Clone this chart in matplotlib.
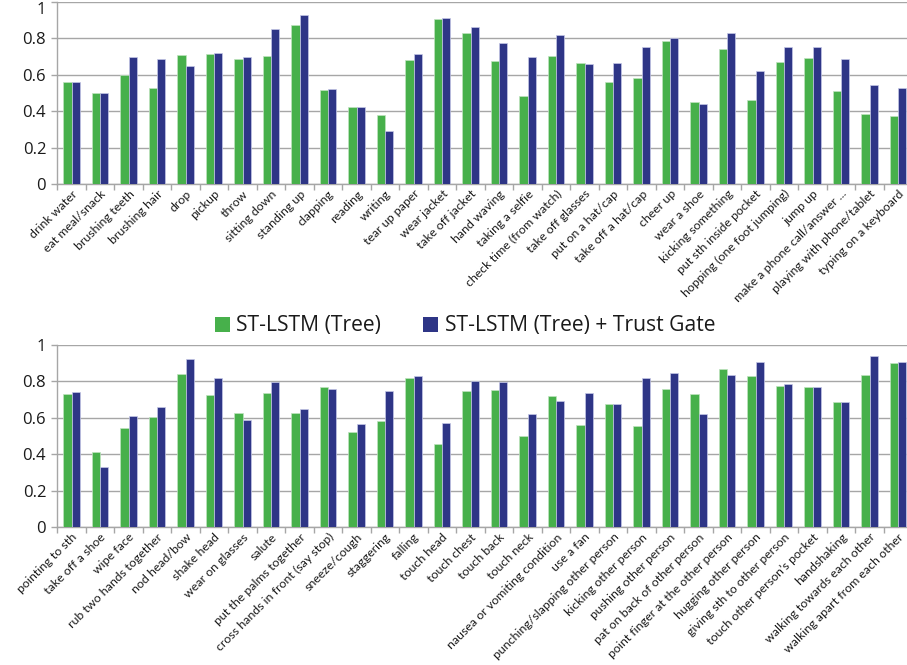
import numpy as np
import matplotlib
matplotlib.use("Agg")
import matplotlib.pyplot as plt
from matplotlib.patches import Patch

plt.rcParams['font.family'] = ['Open Sans', 'DejaVu Sans']

series_names = ["ST-LSTM (Tree)", "ST-LSTM (Tree) + Trust Gate"]

top_categories = [
    "drink water", "eat meal/snack", "brushing teeth", "brushing hair", "drop",
    "pickup", "throw", "sitting down", "standing up", "clapping", "reading",
    "writing", "tear up paper", "wear jacket", "take off jacket", "hand waving",
    "taking a selfie", "check time (from watch)", "take off glasses",
    "put on a hat/cap", "take off a hat/cap", "cheer up", "wear a shoe",
    "kicking something", "put sth inside pocket", "hopping (one foot jumping)",
    "jump up", "make a phone call/answer ...", "playing with phone/tablet",
    "typing on a keyboard",
]
top_tree = [0.559, 0.502, 0.599, 0.529, 0.707, 0.716, 0.685, 0.701, 0.875, 0.518,
            0.421, 0.379, 0.681, 0.908, 0.828, 0.674, 0.482, 0.705, 0.663, 0.560,
            0.581, 0.784, 0.452, 0.740, 0.462, 0.668, 0.694, 0.511, 0.385, 0.372]
top_trust = [0.559, 0.502, 0.698, 0.687, 0.647, 0.720, 0.700, 0.850, 0.927, 0.520,
             0.421, 0.291, 0.712, 0.912, 0.861, 0.777, 0.700, 0.819, 0.658, 0.663,
             0.753, 0.800, 0.441, 0.832, 0.623, 0.751, 0.753, 0.689, 0.542, 0.526]

bottom_categories = [
    "pointing to sth", "take off a shoe", "wipe face", "rub two hands together",
    "nod head/bow", "shake head", "wear on glasses", "salute",
    "put the palms together", "cross hands in front (say stop)", "sneeze/cough",
    "staggering", "falling", "touch head", "touch chest", "touch back",
    "touch neck", "nausea or vomiting condition", "use a fan",
    "punching/slapping other person", "kicking other person",
    "pushing other person", "pat on back of other person",
    "point finger at the other person", "hugging other person",
    "giving sth to other person", "touch other person\u2019s pocket",
    "handshaking", "walking towards each other", "walking apart from each other",
]
bottom_tree = [0.729, 0.411, 0.545, 0.603, 0.841, 0.728, 0.627, 0.737, 0.627, 0.768,
               0.521, 0.581, 0.819, 0.459, 0.748, 0.751, 0.503, 0.718, 0.559, 0.675,
               0.558, 0.759, 0.733, 0.868, 0.828, 0.777, 0.768, 0.686, 0.837, 0.899]
bottom_trust = [0.744, 0.333, 0.609, 0.658, 0.925, 0.819, 0.587, 0.799, 0.651, 0.759,
                0.567, 0.748, 0.830, 0.570, 0.803, 0.799, 0.620, 0.693, 0.735, 0.678,
                0.819, 0.846, 0.620, 0.834, 0.907, 0.784, 0.768, 0.689, 0.940, 0.909]

yticks = [0, 0.2, 0.4, 0.6, 0.8, 1]
ytick_labels = ["0", "0.2", "0.4", "0.6", "0.8", "1"]

GREEN = "#47B04B"
BLUE = "#2E3586"
GRID = "#A6A6A6"
TEXT = "#1a1a1a"

W, H = 907, 665
fig = plt.figure(figsize=(W / 100, H / 100), dpi=100)

ax_left = 57.3 / W
ax_w = 855 / W
top_ax = fig.add_axes([ax_left, 1 - 184 / H, ax_w, 182 / H])
bot_ax = fig.add_axes([ax_left, 1 - 527.3 / H, ax_w, 182.3 / H])

bw = 0.295


def draw(ax, cats, a, b):
    x = np.arange(len(cats))
    ax.bar(x - bw / 2, a, width=bw, color=GREEN, edgecolor="#BFE3BF",
           linewidth=0.5, zorder=3)
    ax.bar(x + bw / 2, b, width=bw, color=BLUE, edgecolor="#C5C8E6",
           linewidth=0.5, zorder=3)
    ax.set_xlim(-0.5, len(cats) - 0.5)
    ax.set_ylim(0, 1)
    ax.set_yticks(yticks)
    ax.set_yticklabels(ytick_labels, fontsize=12, color=TEXT)
    ax.tick_params(axis='y', length=4, width=1.0, color=GRID, pad=4)
    ax.set_xticks(x)
    ax.set_xticklabels(cats, rotation=45, ha='right', va='top',
                       rotation_mode='anchor', fontsize=8.9, color=TEXT,
                       family=['Lato', 'DejaVu Sans'])
    ax.tick_params(axis='x', which='major', length=0, pad=3)
    ax.set_xticks(np.arange(len(cats) + 1) - 0.5, minor=True)
    ax.tick_params(axis='x', which='minor', length=4, width=1.0, color=GRID)
    ax.yaxis.grid(True, color=GRID, linewidth=1.0, zorder=0)
    ax.set_axisbelow(True)
    for s in ['top', 'right']:
        ax.spines[s].set_visible(False)
    for s in ['left', 'bottom']:
        ax.spines[s].set_color(GRID)
        ax.spines[s].set_linewidth(1.0)
    ax.patch.set_alpha(0)


draw(top_ax, top_categories, top_tree, top_trust)
draw(bot_ax, bottom_categories, bottom_tree, bottom_trust)

# the top "1" label sits just below the figure edge in the reference
top_ax.get_yticklabels()[-1].set_va('top')

handles = [Patch(facecolor=GREEN, edgecolor='none'),
           Patch(facecolor=BLUE, edgecolor='none')]
fig.legend(handles, series_names, loc='center', bbox_to_anchor=(465 / W, 1 - 326 / H),
           ncol=2, frameon=False, fontsize=15.2, handlelength=0.72, handleheight=0.72,
           handletextpad=0.3, columnspacing=2.0, labelcolor=TEXT)

fig.savefig("out.png", dpi=100)
